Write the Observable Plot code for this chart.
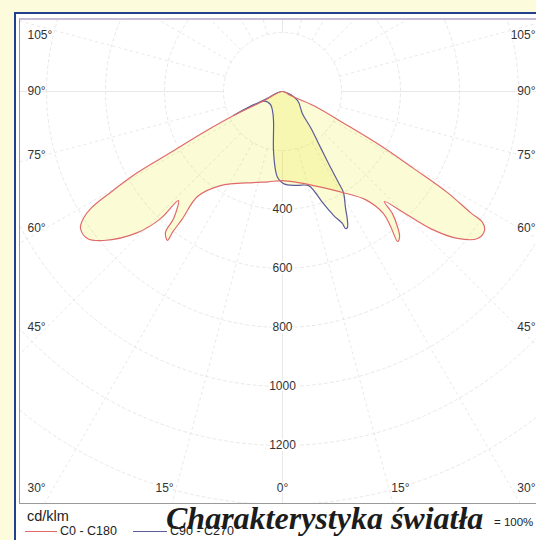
<!DOCTYPE html>
<html>
<head>
<meta charset="utf-8">
<script src="https://cdn.jsdelivr.net/npm/d3@7"></script>
<script src="https://cdn.jsdelivr.net/npm/@observablehq/plot@0.6"></script>
<style>
  html, body { margin: 0; padding: 0; }
  body { width: 536px; height: 540px; overflow: hidden; position: relative; background: #fcfcdc; font-family: "Liberation Sans", Arial, sans-serif; }
  #outer { position: absolute; left: 14px; top: 12px; width: 600px; height: 600px; background: #fff; border-left: 2px solid #22408e; border-top: 2px solid #22408e; }
  #plotbox { position: absolute; left: 3px; top: 4px; width: 600px; height: 483px; border-top: 2px solid #c6bcd8; border-left: 1px solid #9a9a9a; border-bottom: 1px solid #9a9a9a; overflow: hidden; background: #fff; }
  #plotbox svg { display: block; }
  .t { position: absolute; white-space: nowrap; color: #222; }
  .ln { position: absolute; height: 0; }
</style>
</head>
<body>
<div id="outer"><div id="plotbox"></div></div>
<div class="t" style="left:27px;top:509px;font-size:14.5px;line-height:14px;">cd/klm</div>
<div class="ln" style="left:25px;top:531px;width:32px;border-top:1px solid #e06a6a;"></div>
<div class="t" id="lg0" style="left:60px;top:525px;font-size:12.5px;line-height:13px;"></div>
<div class="ln" style="left:133px;top:531px;width:34px;border-top:1px solid #5c5c98;"></div>
<div class="t" id="lg1" style="left:170px;top:525px;font-size:12.5px;line-height:13px;"></div>
<div class="t" style="left:494px;top:516px;font-size:11.5px;line-height:12px;">= 100%</div>
<div class="t" style="left:166px;top:502px;font-family:'Liberation Serif','Times New Roman',serif;font-weight:bold;font-style:italic;font-size:32px;line-height:32px;color:#1c1c1c;">Charakterystyka światła</div>
<script>
// ---- data (gamma in degrees from nadir, intensity in cd/klm) ----
const c0Angles   = [0, 9, 18.3, 30.7, 37.5, 39.6, 38.7, 37.5, 38.9, 40.4, 42, 42.8, 45, 47.2, 50, 53, 55.5, 56.8, 57.2, 58.5, 59.6, 61.1, 62.4, 65.7, 63];
const c0Values   = [302, 312, 336, 398, 462, 537, 586, 641, 632, 601, 557, 508, 580, 684, 775, 828, 831, 810, 758, 656, 515, 379, 249, 115, 30];
const c180Angles = [0, 9, 17.7, 33.4, 39, 38.2, 38, 37.7, 39.7, 40.6, 43.7, 43.8, 45.8, 50.2, 53, 55.9, 57.5, 58.6, 59.6, 60.8, 61.4, 62.6, 63.9, 63.4];
const c180Values = [302, 310, 324, 382, 458, 548, 606, 638, 621, 567, 511, 597, 686, 789, 828, 827, 800, 762, 676, 563, 432, 302, 170, 76];
const c90Angles  = [0, 3, 9, 15.5, 18, 20, 22.4, 24.4, 24.7, 25.5, 26.7, 28.5, 31.1, 31.6, 32.3, 34.2, 37.9, 42, 59];
const c90Values  = [310, 317, 322, 331, 360, 404, 454, 491, 511, 511, 490, 447, 400, 362, 305, 229, 155, 101, 59];
const c270Angles = [0, 3.3, 5, 8.7, 17.2, 27.8, 42.7, 62, 64, 65.5];
const c270Values = [310, 292, 269, 202, 103, 73, 60, 70, 185, 60];

const ringValues = [200, 400, 600, 800, 1000, 1200, 1400];
const ringLabels = [400, 600, 800, 1000, 1200];
const rayAngles = d3.range(0, 360, 15);
const sideAngleLabels = [30, 45, 60, 75, 90, 105];
const bottomAngleLabels = [0, 15];
const legendNames = ["C0 - C180", "C90 - C270"];
const seriesColors = ["#e06a6a", "#5c5c98"];

document.getElementById("lg0").textContent = legendNames[0];
document.getElementById("lg1").textContent = legendNames[1];

// ---- layout ----
const K = 0.295;            // px per cd
const W = 516, H = 483;     // svg size
const CX = 262, CY = 71;    // polar centre in svg px
const rad = Math.PI / 180;

function half(angles, values, side) {
  return angles.map((g, i) => ({x: side * values[i] * Math.sin(g * rad), y: values[i] * Math.cos(g * rad)}));
}
function polygon(rA, rV, lA, lV) {
  const right = half(rA, rV, 1);
  const left = half(lA, lV, -1).slice(1).reverse();
  return [...right, {x: 0, y: 0}, ...left];
}
const redPoly = polygon(c0Angles, c0Values, c180Angles, c180Values);
const bluePoly = polygon(c90Angles, c90Values, c270Angles, c270Values);

const ringPts = ringValues.flatMap(r => d3.range(0, 361, 2).map(a => ({ring: r, x: r * Math.sin(a * rad), y: r * Math.cos(a * rad)})));
const rays = rayAngles.map(a => ({a, x1: 200 * Math.sin(a * rad), y1: 200 * Math.cos(a * rad), x2: 2400 * Math.sin(a * rad), y2: 2400 * Math.cos(a * rad)}));
const solidRays = rays.filter(d => d.a % 90 === 0);
const dashedRays = rays.filter(d => d.a % 90 !== 0);

const clampY = v => Math.max(-56, Math.min(397, v));
const leftLabels = sideAngleLabels.map(g => ({t: g + "°", x: -255 / K, y: clampY(236 / Math.tan(g * rad)) / K}));
const rightLabels = sideAngleLabels.map(g => ({t: g + "°", x: 253 / K, y: clampY(236 / Math.tan(g * rad)) / K}));
const bottomLabels = bottomAngleLabels.flatMap(g => {
  const dx = 440 * Math.tan(g * rad) / K;
  return g === 0 ? [{t: "0°", x: 0, y: 397 / K}] : [{t: g + "°", x: -dx, y: 397 / K}, {t: g + "°", x: dx, y: 397 / K}];
});

const font = "Liberation Sans, Arial, sans-serif";
const labelStyle = {fontSize: 12, fontFamily: font, fill: "#333", stroke: "white", strokeWidth: 3};
const chart = Plot.plot({
  width: W, height: H, margin: 0,
  style: {background: "white", overflow: "hidden"},
  x: {domain: [-CX / K, (W - CX) / K], range: [0, W], axis: null},
  y: {domain: [-CY / K, (H - CY) / K], range: [0, H], axis: null},
  marks: [
    Plot.line(ringPts, {x: "x", y: "y", z: "ring", stroke: "#dedede", strokeWidth: 0.7, strokeDasharray: "3,3", clip: true}),
    Plot.link(dashedRays, {x1: "x1", y1: "y1", x2: "x2", y2: "y2", stroke: "#dedede", strokeWidth: 0.7, strokeDasharray: "3,3", clip: true}),
    Plot.link(solidRays, {x1: "x1", y1: "y1", x2: "x2", y2: "y2", stroke: "#e2e2e2", strokeWidth: 0.8, clip: true}),
    Plot.line(redPoly, {x: "x", y: "y", curve: "catmull-rom-closed", fill: "#e8e800", fillOpacity: 0.16, stroke: "none"}),
    Plot.line(bluePoly, {x: "x", y: "y", curve: "catmull-rom-closed", fill: "#e8e800", fillOpacity: 0.17, stroke: "none"}),
    Plot.line(bluePoly, {x: "x", y: "y", curve: "catmull-rom-closed", stroke: seriesColors[1], strokeWidth: 1.2}),
    Plot.line(redPoly, {x: "x", y: "y", curve: "catmull-rom-closed", stroke: seriesColors[0], strokeWidth: 1.2}),
    Plot.text(ringLabels, {x: () => 0, y: d => d, text: d => String(d), ...labelStyle, strokeWidth: 4}),
    Plot.text(leftLabels, {x: "x", y: "y", text: "t", textAnchor: "start", ...labelStyle}),
    Plot.text(rightLabels, {x: "x", y: "y", text: "t", textAnchor: "end", ...labelStyle}),
    Plot.text(bottomLabels, {x: "x", y: "y", text: "t", ...labelStyle})
  ]
});
document.getElementById("plotbox").appendChild(chart);
</script>
</body>
</html>
